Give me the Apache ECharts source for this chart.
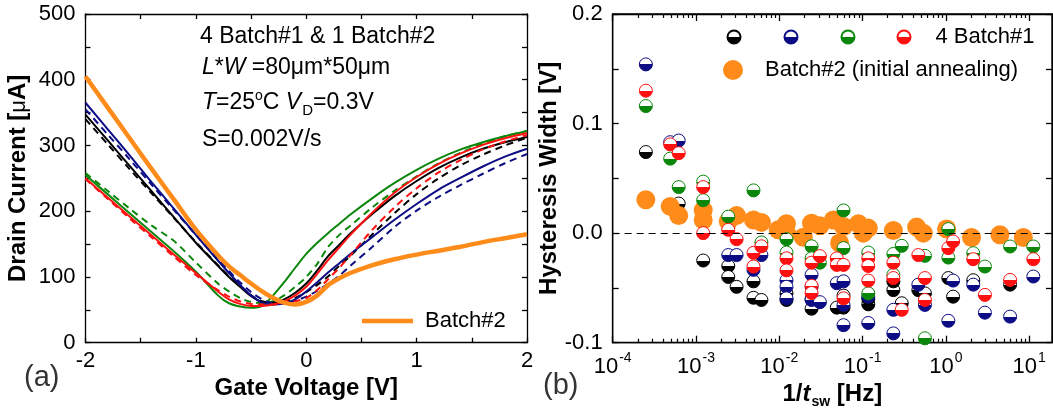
<!DOCTYPE html>
<html><head><meta charset="utf-8">
<script src="https://cdn.jsdelivr.net/npm/echarts@6/dist/echarts.min.js"></script>
<style>html,body{margin:0;padding:0;background:#fff}#c{width:1053px;height:416px}</style>
</head><body><div id="c"></div>
<script>
// ---------- Panel (a): drain current vs gate voltage ----------
const gateV = [-2,-1.8,-1.6,-1.4,-1.2,-1.0,-0.8,-0.7,-0.6,-0.5,-0.4,-0.3,-0.2,-0.1,0,0.1,0.2,0.3,0.4,0.6,0.8,1.0,1.2,1.4,1.6,1.8,2.0];
const blackFwd = [347,308,269,230,191,152,117,100,85,71,62,61,66,76,90,110,132,149,166,196,223,246,266,282,295,305,313];
const blackRev = [340,302,264,227,190,153,118,101,86,72,63,60,62,68,77,88,101,117,132,165,197,226,250,270,286,300,312];
const blueFwd  = [365,325,285,244,204,164,125,106,88,72,61,58,60,66,78,92,107,121,135,161,187,211,233,251,268,283,295];
const blueRev  = [355,317,279,240,202,164,127,109,92,77,66,60,60,64,70,79,90,102,117,146,176,201,222,240,257,273,287];
const greenFwd = [255,226,197,168,139,108,72,60,55,53,56,72,92,114,135,152,167,181,195,220,243,263,280,294,305,314,322];
const greenRev = [258,231,204,178,155,122,90,78,68,62,60,63,72,85,100,120,146,164,178,206,231,253,273,289,303,314,322];
const redFwd   = [250,221,192,163,134,106,78,66,59,56,56,58,63,72,85,105,126,145,164,198,228,252,272,288,301,311,319];
const redRev   = [249,219,189,160,131,103,80,70,63,59,58,58,60,63,68,80,97,114,133,172,206,235,259,278,294,306,316];
const batch2   = [405,358,311,264,218,172,133,116,103,90,78,68,61,58,62,72,88,98,106,118,127,134,140,146,153,159,165];
const currentTicks = [0,100,200,300,400,500];
const voltTicks = [-2,-1,0,1,2];

// ---------- Panel (b): hysteresis width vs 1/t_sw ----------
const blackHW = [[2.5e-4,0.074],[4.9e-4,0.025],[6.2e-4,0.027],[1.22e-3,-0.025],[2.44e-3,-0.030],[2.44e-3,-0.040],[3.07e-3,-0.049],[4.9e-3,-0.044],[4.9e-3,-0.059],[6.1e-3,-0.061],[1.22e-2,-0.061],[1.22e-2,-0.055],[2.44e-2,-0.069],[2.44e-2,-0.060],[4.9e-2,-0.068],[5.9e-2,-0.068],[5.9e-2,-0.057],[0.117,-0.065],[0.117,-0.060],[0.234,-0.052],[0.234,-0.044],[0.295,-0.064],[0.467,-0.052],[0.56,-0.055],[1.07,-0.041],[1.22,-0.058],[2.13,-0.043],[5.9,-0.047]];
const blueHW = [[2.5e-4,0.154],[4.9e-4,0.083],[6.2e-4,0.0845],[1.22e-3,0.024],[2.44e-3,-0.020],[3.07e-3,-0.020],[4.9e-3,-0.0335],[6.1e-3,-0.020],[1.22e-2,-0.043],[1.22e-2,-0.049],[1.22e-2,-0.0595],[2.44e-2,-0.038],[2.44e-2,-0.049],[2.44e-2,-0.061],[3.07e-2,-0.063],[4.9e-2,-0.0457],[5.9e-2,-0.044],[5.9e-2,-0.0655],[5.9e-2,-0.084],[0.117,-0.058],[0.117,-0.082],[0.234,-0.070],[0.234,-0.0915],[0.467,-0.047],[0.56,-0.0655],[1.07,-0.080],[1.22,-0.0433],[2.13,-0.047],[2.94,-0.0726],[5.9,-0.0762],[11.2,-0.0396]];
const greenHW = [[2.5e-4,0.116],[4.9e-4,0.068],[6.2e-4,0.042],[1.22e-3,0.047],[1.22e-3,0.030],[2.44e-3,0.015],[4.9e-3,0.039],[6.1e-3,-0.0085],[1.22e-2,-0.0055],[1.22e-2,-0.0177],[2.44e-2,-0.012],[2.44e-2,-0.023],[3.07e-2,-0.027],[5.9e-2,0.0207],[5.9e-2,-0.0137],[0.117,-0.0177],[0.117,-0.055],[0.234,-0.019],[0.234,-0.038],[0.295,-0.0116],[0.56,-0.0207],[0.56,-0.096],[1.07,0.0037],[1.07,-0.0223],[2.13,-0.0183],[2.94,-0.0305],[5.9,-0.0122],[11.2,-0.0122]];
const redHW = [[2.5e-4,0.130],[4.9e-4,0.081],[6.2e-4,0.073],[1.22e-3,0.042],[1.22e-3,0.0],[2.44e-3,0.003],[3.07e-3,-0.0055],[4.9e-3,-0.018],[4.9e-3,-0.0305],[6.1e-3,-0.012],[1.22e-2,-0.023],[1.22e-2,-0.034],[2.44e-2,-0.027],[2.44e-2,-0.048],[2.44e-2,-0.0546],[3.07e-2,-0.021],[4.9e-2,-0.023],[4.9e-2,-0.029],[5.9e-2,-0.029],[5.9e-2,-0.0595],[0.117,-0.023],[0.117,-0.030],[0.117,-0.0433],[0.234,-0.027],[0.234,-0.041],[0.295,-0.070],[0.467,-0.020],[0.56,-0.041],[0.56,-0.061],[1.07,-0.0137],[1.22,-0.0076],[2.13,-0.0238],[2.94,-0.0564],[5.9,-0.0427],[11.2,-0.0238]];
const batch2HW = [[2.5e-4,0.0305],[4.9e-4,0.0244],[6.2e-4,0.016],[1.22e-3,0.021],[1.22e-3,0.012],[2.44e-3,0.0107],[3.07e-3,0.016],[4.9e-3,0.012],[6.1e-3,0.0098],[9.7e-3,0.003],[1.22e-2,0.0085],[1.22e-2,0.0],[1.94e-2,-0.0037],[2.44e-2,0.009],[3.07e-2,0.0067],[4.45e-2,0.012],[5.3e-2,-0.009],[5.9e-2,0.006],[8.9e-2,0.0085],[0.102,0.0],[0.117,0.0046],[0.234,0.0024],[0.445,0.0055],[0.535,0.0],[1.02,0.0037],[2.03,-0.004],[4.45,-0.0015],[8.5,-0.004]];
const hwTicks = [-0.1,0.0,0.1,0.2];

const FONT = '"Liberation Sans", Arial, sans-serif';
const C = {black:'#000000', blue:'#0c0c84', green:'#0a870a', red:'#ff1010', orange:'#ff8c1a'};
const X0 = 612.7, X1 = 1052, DEC = 83.3;
const logMax = Math.pow(10, -4 + (X1 - X0) / DEC);

const chart = echarts.init(document.getElementById('c'), null, {renderer: 'canvas'});
const half = c => new echarts.graphic.LinearGradient(0,0,0,1,[{offset:0,color:'#fff'},{offset:0.5,color:'#fff'},{offset:0.5,color:c},{offset:1,color:c}]);
const pts = arr => gateV.map((v,i) => [v, arr[i]]);
const lineS = (name, arr, color, dashed, width) => ({
  name, type:'line', xAxisIndex:0, yAxisIndex:0, data: pts(arr), showSymbol:false, smooth:0.3,
  lineStyle:{color, width: width || 2, type: dashed ? [7,5] : 'solid'}, itemStyle:{color}, silent:true, z: width ? 5 : 3
});
const scat = (name, arr, color) => ({
  name, type:'scatter', xAxisIndex:1, yAxisIndex:1, data: arr, symbol:'circle', symbolSize:13,
  itemStyle:{color: half(color), borderColor: color, borderWidth: 1, opacity: 1}, silent:true
});
const axLine = () => ({show:true, onZero:false, lineStyle:{color:'#000', width:1.3}});
const tick = len => ({show:true, inside:true, length:len, lineStyle:{color:'#000', width:1.3}});
const lab = {fontSize:22, fontFamily:FONT, color:'#000'};
const mirror = {show:true, onZero:false, lineStyle:{color:'#000', width:1.3}};

const option = {
  animation:false,
  backgroundColor:'#fff',
  grid:[
    {left:85.5, top:14, width:441.5, height:328.7, show:false},
    {left:X0, top:14, width:X1 - X0, height:328.7, show:true, borderColor:'#000', borderWidth:1.3, backgroundColor:'transparent'}
  ],
  xAxis:[
    {gridIndex:0, type:'value', min:-2, max:2, interval:0.5, position:'bottom',
     axisLine:axLine(), axisTick:tick(5),
     axisLabel:Object.assign({margin:7, formatter: v => voltTicks.includes(v) ? String(v) : ''}, lab), splitLine:{show:false},
     name:'Gate Voltage [V]', nameLocation:'middle', nameGap:30, nameTextStyle:{fontSize:24, fontWeight:'bold', fontFamily:FONT, color:'#000'}},
    {gridIndex:1, type:'log', logBase:10, min:1e-4, max:logMax, position:'bottom',
     axisLine:axLine(), axisTick:tick(7), minorTick:{show:true, splitNumber:9, length:4, lineStyle:{color:'#000', width:1.2}},
     axisLabel:{margin:8, showMaxLabel:false, formatter: v => { const l = Math.log10(v), e = Math.round(l); return Math.abs(l - e) < 1e-6 ? '{b|10}{s|' + e + '}' : ''; },
       rich:{b:{fontSize:22, fontFamily:FONT, color:'#000', lineHeight:22}, s:{fontSize:14, fontFamily:FONT, color:'#000', padding:[0,0,18,1]}}},
     splitLine:{show:false},
     name:'{a|1/}{t|t}{s|sw}{a| [Hz]}', nameLocation:'middle', nameGap:34,
     nameTextStyle:{rich:{a:{fontSize:24, fontWeight:'bold', fontFamily:FONT, color:'#000'}, t:{fontSize:24, fontWeight:'bold', fontStyle:'italic', fontFamily:FONT, color:'#000'}, s:{fontSize:14, fontWeight:'bold', fontFamily:FONT, color:'#000', padding:[16,0,0,1]}}}},
    {gridIndex:0, type:'value', min:-2, max:2, interval:0.5, position:'top',
     axisLine:axLine(), axisTick:tick(5), axisLabel:{show:false}, splitLine:{show:false}},
    {gridIndex:1, type:'log', logBase:10, min:1e-4, max:logMax, position:'top',
     axisLine:axLine(), axisTick:tick(7), minorTick:{show:true, splitNumber:9, length:4, lineStyle:{color:'#000', width:1.2}},
     axisLabel:{show:false}, splitLine:{show:false}}
  ],
  yAxis:[
    {gridIndex:0, type:'value', min:0, max:500, interval:50, position:'left',
     axisLine:axLine(), axisTick:tick(5),
     axisLabel:Object.assign({margin:10, formatter: v => currentTicks.includes(v) ? String(v) : ''}, lab), splitLine:{show:false},
     name:'{b|Drain Current [}{m|μ}{b|A]}', nameLocation:'middle', nameGap:55, nameRotate:90,
     nameTextStyle:{rich:{b:{fontSize:24, fontWeight:'bold', fontFamily:FONT, color:'#000'}, m:{fontSize:22, fontFamily:FONT, color:'#000'}}}},
    {gridIndex:1, type:'value', min:-0.1, max:0.2, interval:0.05, position:'left',
     axisLine:axLine(), axisTick:tick(6),
     axisLabel:Object.assign({margin:10, formatter: v => { const r = Math.round(v*10)/10; return hwTicks.some(t => Math.abs(t - v) < 1e-9) ? r.toFixed(1) : ''; }}, lab),
     splitLine:{show:false},
     name:'Hysteresis Width [V]', nameLocation:'middle', nameGap:50, nameRotate:90,
     nameTextStyle:{fontSize:24, fontWeight:'bold', fontFamily:FONT, color:'#000'}},
    {gridIndex:0, type:'value', min:0, max:500, interval:50, position:'right',
     axisLine:axLine(), axisTick:tick(5), axisLabel:{show:false}, splitLine:{show:false}},
    {gridIndex:1, type:'value', min:-0.1, max:0.2, interval:0.05, position:'right',
     axisLine:axLine(), axisTick:tick(6), axisLabel:{show:false}, splitLine:{show:false}}
  ],
  legend:[
    {data:['Batch#2'], left:362, top:309, padding:0, icon:'rect', itemWidth:51, itemHeight:4.5, selectedMode:false,
     textStyle:{fontSize:22, fontFamily:FONT, color:'#000', lineHeight:24, rich:{p:{fontSize:22, fontFamily:FONT, color:'#000', padding:[0,0,0,7]}}}, formatter:'{p|Batch#2}'},
    {data:['bk'], left:726.5, top:25, padding:0, itemWidth:13, itemHeight:13, selectedMode:false, formatter:() => ' ', textStyle:{fontSize:22, lineHeight:24}},
    {data:['bl'], left:783.5, top:25, padding:0, itemWidth:13, itemHeight:13, selectedMode:false, formatter:() => ' ', textStyle:{fontSize:22, lineHeight:24}},
    {data:['gr'], left:840.5, top:25, padding:0, itemWidth:13, itemHeight:13, selectedMode:false, formatter:() => ' ', textStyle:{fontSize:22, lineHeight:24}},
    {data:['rd'], left:896.5, top:25, padding:0, itemWidth:13, itemHeight:13, selectedMode:false, formatter:'{p|4 Batch#1}',
     textStyle:{fontSize:22, lineHeight:24, fontFamily:FONT, color:'#000', rich:{p:{fontSize:22, fontFamily:FONT, color:'#000', padding:[0,0,0,20]}}}},
    {data:['Batch#2 (initial annealing)'], left:723, top:58, padding:0, itemWidth:20, itemHeight:20, selectedMode:false, formatter:'{p|Batch#2 (initial annealing)}',
     textStyle:{fontSize:22, lineHeight:24, fontFamily:FONT, color:'#000', rich:{p:{fontSize:22, fontFamily:FONT, color:'#000', padding:[0,0,0,17]}}}}
  ],
  graphic:[
    {type:'text', x:24, y:378, style:{text:'(a)', fontSize:29, fontFamily:FONT, fill:'#333', verticalAlign:'middle'}},
    {type:'text', x:543, y:386, style:{text:'(b)', fontSize:29, fontFamily:FONT, fill:'#333', verticalAlign:'middle'}},
    {type:'text', x:200, y:37, style:{text:'4 Batch#1 & 1 Batch#2', fontSize:23, fontFamily:FONT, fill:'#000', verticalAlign:'middle'}},
    {type:'text', x:202, y:68, style:{text:'{i|L}*{i|W} =80μm*50μm', fontSize:23, fontFamily:FONT, fill:'#000', verticalAlign:'middle',
      rich:{i:{fontSize:23, fontFamily:FONT, fontStyle:'italic', fill:'#000'}}}},
    {type:'text', x:202, y:103, style:{text:'{i|T}=25{sup|o}C {i|V}{sub|D}=0.3V', fontSize:23, fontFamily:FONT, fill:'#000', verticalAlign:'middle',
      rich:{i:{fontSize:23, fontFamily:FONT, fontStyle:'italic', fill:'#000'}, sup:{fontSize:14, fontFamily:FONT, fill:'#000', padding:[0,0,13,0]}, sub:{fontSize:15, fontFamily:FONT, fill:'#000', padding:[16,0,0,1]}}}},
    {type:'text', x:202, y:140, style:{text:'S=0.002V/s', fontSize:23, fontFamily:FONT, fill:'#000', verticalAlign:'middle'}}
  ],
  series:[
    lineS('gfwd', greenFwd, C.green, false),
    lineS('grev', greenRev, C.green, true),
    lineS('kfwd', blackFwd, C.black, false),
    lineS('krev', blackRev, C.black, true),
    lineS('bfwd', blueFwd, C.blue, false),
    lineS('brev', blueRev, C.blue, true),
    lineS('rfwd', redFwd, C.red, false),
    lineS('rrev', redRev, C.red, true),
    lineS('Batch#2', batch2, C.orange, false, 4.5),
    Object.assign(scat('bk', blackHW, C.black), {markLine:{silent:true, symbol:['none','none'], label:{show:false},
      lineStyle:{color:'#000', width:1, type:[7,5]}, data:[{yAxis:0}]}}),
    scat('bl', blueHW, C.blue),
    {name:'Batch#2 (initial annealing)', type:'scatter', xAxisIndex:1, yAxisIndex:1, data:batch2HW, symbol:'circle', symbolSize:19,
     itemStyle:{color:C.orange, opacity:1}, silent:true},
    scat('gr', greenHW, C.green),
    scat('rd', redHW, C.red)
  ]
};
chart.setOption(option);
</script></body></html>
